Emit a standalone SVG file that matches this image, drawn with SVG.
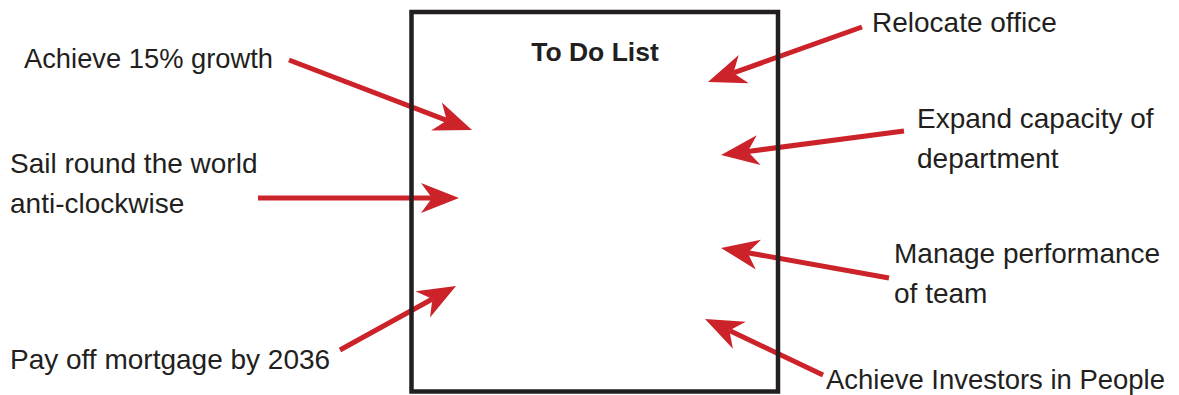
<svg xmlns="http://www.w3.org/2000/svg" width="1179" height="395" viewBox="0 0 1179 395">
<style>
.lbl{font-family:"Liberation Sans",Arial,sans-serif;font-size:28px;fill:#231f20}
.title{font-family:"Liberation Sans",Arial,sans-serif;font-size:26.5px;font-weight:bold;fill:#231f20;text-anchor:middle}
.arr{stroke:#cc2229;stroke-width:5;fill:none;marker-end:url(#ah)}
</style>
<defs>
<marker id="ah" markerUnits="userSpaceOnUse" viewBox="-40 -16 42 32" markerWidth="42" markerHeight="32" refX="-27" refY="0" orient="auto">
<path d="M0,0 L-38,-15 L-27,0 L-38,15 Z" fill="#cc2229"/>
</marker>
</defs>
<rect width="1179" height="395" fill="#fff"/>
<g id="connectors">
<line class="arr" x1="289" y1="60" x2="446.8" y2="120.4"/>
<line class="arr" x1="258" y1="198" x2="432" y2="198"/>
<line class="arr" x1="340" y1="350" x2="432.4" y2="299"/>
<line class="arr" x1="862" y1="27" x2="733.4" y2="72.9"/>
<line class="arr" x1="904" y1="131" x2="747.8" y2="151.5"/>
<line class="arr" x1="889" y1="278" x2="747.6" y2="252.7"/>
<line class="arr" x1="823" y1="375" x2="729.4" y2="330.6"/>
</g>
<g id="todo">
<rect x="411.5" y="12" width="366.5" height="379.5" fill="none" stroke="#231f20" stroke-width="4.5"/>
<text class="title" x="595" y="61">To Do List</text>
</g>
<g id="growth"><text class="lbl" x="24" y="68" textLength="249" lengthAdjust="spacingAndGlyphs">Achieve 15% growth</text></g>
<g id="sail"><text class="lbl" x="10" y="173">Sail round the world</text><text class="lbl" x="10" y="213">anti-clockwise</text></g>
<g id="mortgage"><text class="lbl" x="10" y="369">Pay off mortgage by 2036</text></g>
<g id="relocate"><text class="lbl" x="872" y="32">Relocate office</text></g>
<g id="expand"><text class="lbl" x="917" y="128">Expand capacity of</text><text class="lbl" x="917" y="168">department</text></g>
<g id="manage"><text class="lbl" x="894" y="263">Manage performance</text><text class="lbl" x="894" y="303">of team</text></g>
<g id="investors"><text class="lbl" x="826" y="389" textLength="339" lengthAdjust="spacingAndGlyphs">Achieve Investors in People</text></g>
</svg>
